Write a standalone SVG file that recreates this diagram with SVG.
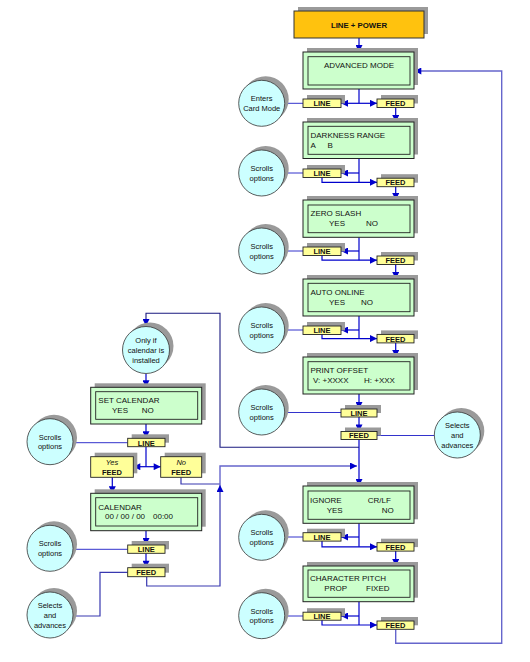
<svg xmlns="http://www.w3.org/2000/svg" width="530" height="662" viewBox="0 0 530 662">
<style>
text{font-family:"Liberation Sans",Arial,sans-serif;fill:#111}
.bt{font-size:8px}
.bc{font-size:8px;text-anchor:middle}
.kb{font-size:7.5px;font-weight:bold;text-anchor:middle}
.ki{font-size:7.5px;font-style:italic;text-anchor:middle}
.ct{font-size:7.5px;text-anchor:middle}
.sh{fill:#9a9a9a}
.box{fill:#CCFFCC;stroke:#222;stroke-width:1}
.inr{fill:#CCFFCC;stroke:#222;stroke-width:0.9}
.key{fill:#FFFF99;stroke:#222;stroke-width:0.9}
.cir{fill:#CCFFFF;stroke:#333;stroke-width:0.8}
.pw{fill:#FFC20E;stroke:#333;stroke-width:1}
.c{fill:none;stroke:#0000CC;stroke-width:1.2}
.t{fill:none;stroke:#3333CC;stroke-width:1}
.lp{fill:none;stroke:#6666CC;stroke-width:1.4}
.nv{fill:none;stroke:#1a1a80;stroke-width:1.1}
.nb{fill:none;stroke:#3838B0;stroke-width:1.2}
</style>
<defs>
<marker id="a" viewBox="0 0 10 10" refX="10" refY="5" markerWidth="9" markerHeight="7" orient="auto" markerUnits="userSpaceOnUse"><path d="M0,0 L10,5 L0,10 z" fill="#0000CC"/></marker>
</defs>

<g id="connectors">
<path class="c" d="M359,38 V52" marker-end="url(#a)"/>
<path class="lp" d="M395.7,629.3 V643.3 H501.7 V71 H414.3" marker-end="url(#a)"/>
<!-- row 1 -->
<path class="c" d="M359,89 V103.3"/>
<path class="c" d="M359,103.3 H341" marker-end="url(#a)"/>
<path class="c" d="M359,103.3 H377" marker-end="url(#a)"/>
<path class="t" d="M284.7,103.3 H303"/>
<path class="c" d="M395.7,107.5 V122" marker-end="url(#a)"/>
<!-- row 2 -->
<path class="c" d="M359,158.5 V182.3"/>
<path class="c" d="M359,173 H341" marker-end="url(#a)"/>
<path class="c" d="M322,177 V182.3 H377" marker-end="url(#a)"/>
<path class="t" d="M284.7,173 H303"/>
<path class="c" d="M395.7,186.5 V200" marker-end="url(#a)"/>
<!-- row 3 -->
<path class="c" d="M359,237.3 V260.2"/>
<path class="c" d="M359,251 H341" marker-end="url(#a)"/>
<path class="c" d="M322,255 V260.2 H377" marker-end="url(#a)"/>
<path class="t" d="M284.7,251 H303"/>
<path class="c" d="M395.7,264.3 V279" marker-end="url(#a)"/>
<!-- row 4 -->
<path class="c" d="M359,316 V338.6"/>
<path class="c" d="M359,330 H341" marker-end="url(#a)"/>
<path class="c" d="M322,334 V338.6 H377" marker-end="url(#a)"/>
<path class="t" d="M284.7,330 H303"/>
<path class="c" d="M395.7,342.7 V357" marker-end="url(#a)"/>
<!-- print offset -->
<path class="c" d="M359,394 V409" marker-end="url(#a)"/>
<path class="c" d="M359,417 V431.5" marker-end="url(#a)"/>
<path class="t" d="M284.7,412.5 H341"/>
<path class="t" d="M377,435.5 H434.3"/>
<path class="c" d="M359,439.5 V486" marker-end="url(#a)"/>
<!-- calendar links -->
<path class="nv" d="M359,447.3 H220 V313.3 H146 V326" marker-end="url(#a)"/>
<path class="nb" d="M146.7,576.7 V586 H220 V485" marker-end="url(#a)"/>
<path class="nb" d="M181,477.3 V484 H220"/>
<path class="lp" d="M220,485 V466 H357" marker-end="url(#a)"/>
<!-- calendar column -->
<path class="c" d="M146,374 V387.3" marker-end="url(#a)"/>
<path class="c" d="M146,424 V438.3" marker-end="url(#a)"/>
<path class="t" d="M73,442.7 H127.7"/>
<path class="c" d="M146,446.7 V466.7"/>
<path class="c" d="M146,466.7 H133.3" marker-end="url(#a)"/>
<path class="c" d="M146,466.7 H160.7" marker-end="url(#a)"/>
<path class="c" d="M112.3,477.3 V493.3" marker-end="url(#a)"/>
<path class="c" d="M146,530.7 V545" marker-end="url(#a)"/>
<path class="t" d="M73,549.3 H127.7"/>
<path class="c" d="M146,553.3 V567.7" marker-end="url(#a)"/>
<path class="nb" d="M127.7,572.3 H100 V616 H73"/>
<!-- row 6 -->
<path class="c" d="M359,523.3 V546.8"/>
<path class="c" d="M359,537 H341" marker-end="url(#a)"/>
<path class="c" d="M322,541 V546.8 H377" marker-end="url(#a)"/>
<path class="t" d="M284.7,537 H303"/>
<path class="c" d="M395.7,551 V566" marker-end="url(#a)"/>
<!-- row 7 -->
<path class="c" d="M359,602 V625"/>
<path class="c" d="M359,616 H341" marker-end="url(#a)"/>
<path class="c" d="M322,620 V625 H377" marker-end="url(#a)"/>
<path class="t" d="M284.7,616 H303"/>
</g>

<g id="line-power">
<rect class="sh" x="298" y="7" width="130" height="27"/>
<rect class="pw" x="294" y="11" width="130" height="27"/>
<text class="kb" x="359" y="27.5" style="font-size:7.8px">LINE + POWER</text>
</g>

<g id="advanced-mode">
<rect class="sh" x="307" y="48" width="111" height="37"/>
<rect class="box" x="303" y="52" width="111" height="37"/>
<rect class="inr" x="308" y="56.7" width="102" height="28.3"/>
<text class="bc" x="359" y="68">ADVANCED MODE</text>
</g>
<g id="enters-card-mode">
<circle class="sh" cx="265.7" cy="99.3" r="23"/>
<circle class="cir" cx="261.7" cy="103.3" r="23"/>
<text class="ct" x="261.7" y="101.3">Enters</text>
<text class="ct" x="261.7" y="110.8">Card Mode</text>
</g>
<g id="line-1"><rect class="sh" x="307" y="95" width="38" height="8.5"/><rect class="key" x="303" y="99" width="38" height="8.5"/><text class="kb" x="322" y="106.2">LINE</text></g>
<g id="feed-1"><rect class="sh" x="381" y="95" width="37" height="8.5"/><rect class="key" x="377" y="99" width="37" height="8.5"/><text class="kb" x="395.5" y="106.2">FEED</text></g>

<g id="darkness-range">
<rect class="sh" x="307" y="118" width="111" height="36.5"/>
<rect class="box" x="303" y="122" width="111" height="36.5"/>
<rect class="inr" x="308" y="126.3" width="102" height="28"/>
<text class="bt" x="310.5" y="138">DARKNESS RANGE</text>
<text class="bt" x="310.5" y="148">A</text>
<text class="bt" x="327.5" y="148">B</text>
</g>
<g id="scrolls-2">
<circle class="sh" cx="265.7" cy="169" r="23"/>
<circle class="cir" cx="261.7" cy="173" r="23"/>
<text class="ct" x="261.7" y="171">Scrolls</text>
<text class="ct" x="261.7" y="180.5">options</text>
</g>
<g id="line-2"><rect class="sh" x="307" y="165" width="38" height="8.5"/><rect class="key" x="303" y="169" width="38" height="8.5"/><text class="kb" x="322" y="176.2">LINE</text></g>
<g id="feed-2"><rect class="sh" x="381" y="174.2" width="37" height="8.5"/><rect class="key" x="377" y="178.2" width="37" height="8.5"/><text class="kb" x="395.5" y="185.4">FEED</text></g>

<g id="zero-slash">
<rect class="sh" x="307" y="196" width="111" height="37.3"/>
<rect class="box" x="303" y="200" width="111" height="37.3"/>
<rect class="inr" x="308" y="205" width="102" height="27.7"/>
<text class="bt" x="310.5" y="215.5">ZERO SLASH</text>
<text class="bt" x="329" y="225.5">YES</text>
<text class="bt" x="366" y="225.5">NO</text>
</g>
<g id="scrolls-3">
<circle class="sh" cx="265.7" cy="247" r="23"/>
<circle class="cir" cx="261.7" cy="251" r="23"/>
<text class="ct" x="261.7" y="249">Scrolls</text>
<text class="ct" x="261.7" y="258.5">options</text>
</g>
<g id="line-3"><rect class="sh" x="307" y="243" width="38" height="8.5"/><rect class="key" x="303" y="247" width="38" height="8.5"/><text class="kb" x="322" y="254.2">LINE</text></g>
<g id="feed-3"><rect class="sh" x="381" y="252" width="37" height="8.5"/><rect class="key" x="377" y="256" width="37" height="8.5"/><text class="kb" x="395.5" y="263.2">FEED</text></g>

<g id="auto-online">
<rect class="sh" x="307" y="275" width="111" height="37"/>
<rect class="box" x="303" y="279" width="111" height="37"/>
<rect class="inr" x="308" y="283.3" width="102" height="28.4"/>
<text class="bt" x="310.5" y="294.5">AUTO ONLINE</text>
<text class="bt" x="329" y="304.5">YES</text>
<text class="bt" x="361" y="304.5">NO</text>
</g>
<g id="scrolls-4">
<circle class="sh" cx="265.7" cy="326" r="23"/>
<circle class="cir" cx="261.7" cy="330" r="23"/>
<text class="ct" x="261.7" y="328">Scrolls</text>
<text class="ct" x="261.7" y="337.5">options</text>
</g>
<g id="line-4"><rect class="sh" x="307" y="322" width="38" height="8.5"/><rect class="key" x="303" y="326" width="38" height="8.5"/><text class="kb" x="322" y="333.2">LINE</text></g>
<g id="feed-4"><rect class="sh" x="381" y="330.4" width="37" height="8.5"/><rect class="key" x="377" y="334.4" width="37" height="8.5"/><text class="kb" x="395.5" y="341.6">FEED</text></g>

<g id="print-offset">
<rect class="sh" x="307" y="353" width="111" height="37"/>
<rect class="box" x="303" y="357" width="111" height="37"/>
<rect class="inr" x="308" y="361.7" width="102" height="28.3"/>
<text class="bt" x="310.5" y="373">PRINT OFFSET</text>
<text class="bt" x="313" y="383">V: +XXXX</text>
<text class="bt" x="364" y="383">H: +XXX</text>
</g>
<g id="scrolls-5">
<circle class="sh" cx="265.7" cy="408" r="23"/>
<circle class="cir" cx="261.7" cy="412" r="23"/>
<text class="ct" x="261.7" y="410">Scrolls</text>
<text class="ct" x="261.7" y="419.5">options</text>
</g>
<g id="line-5"><rect class="sh" x="345" y="405" width="36" height="8"/><rect class="key" x="341" y="409" width="36" height="8"/><text class="kb" x="359" y="415.8">LINE</text></g>
<g id="feed-5"><rect class="sh" x="345" y="427.5" width="36" height="8"/><rect class="key" x="341" y="431.5" width="36" height="8"/><text class="kb" x="359" y="438.3">FEED</text></g>
<g id="selects-right">
<circle class="sh" cx="461.3" cy="431" r="23"/>
<circle class="cir" cx="457.3" cy="435" r="23"/>
<text class="ct" x="457.3" y="427.7">Selects</text>
<text class="ct" x="457.3" y="437.7">and</text>
<text class="ct" x="457.3" y="447.7">advances</text>
</g>

<g id="only-if-calendar">
<circle class="sh" cx="150" cy="346" r="23.5"/>
<circle class="cir" cx="146" cy="350" r="23.5"/>
<text class="ct" x="146" y="342.7">Only if</text>
<text class="ct" x="146" y="352.7">calendar is</text>
<text class="ct" x="146" y="362.7">installed</text>
</g>
<g id="set-calendar">
<rect class="sh" x="94.7" y="383.3" width="111" height="36.7"/>
<rect class="box" x="90.7" y="387.3" width="111" height="36.7"/>
<rect class="inr" x="95.7" y="391.7" width="102" height="27.6"/>
<text class="bt" x="98.3" y="403">SET CALENDAR</text>
<text class="bt" x="112" y="413">YES</text>
<text class="bt" x="141.7" y="413">NO</text>
</g>
<g id="scrolls-cal-1">
<circle class="sh" cx="54" cy="437.7" r="23"/>
<circle class="cir" cx="50" cy="441.7" r="23"/>
<text class="ct" x="50" y="439.7">Scrolls</text>
<text class="ct" x="50" y="449.2">options</text>
</g>
<g id="line-cal-1"><rect class="sh" x="131.7" y="434.3" width="37.3" height="8.4"/><rect class="key" x="127.7" y="438.3" width="37.3" height="8.4"/><text class="kb" x="146.3" y="445.5">LINE</text></g>
<g id="yes-feed"><rect class="sh" x="94.7" y="452.7" width="42.6" height="20.6"/><rect class="key" x="90.7" y="456.7" width="42.6" height="20.6"/><text class="ki" x="112" y="465">Yes</text><text class="kb" x="112" y="475">FEED</text></g>
<g id="no-feed"><rect class="sh" x="164.7" y="452.7" width="41" height="20.6"/><rect class="key" x="160.7" y="456.7" width="41" height="20.6"/><text class="ki" x="181.2" y="465">No</text><text class="kb" x="181.2" y="475">FEED</text></g>

<g id="calendar">
<rect class="sh" x="94.7" y="489.3" width="111" height="37.4"/>
<rect class="box" x="90.7" y="493.3" width="111" height="37.4"/>
<rect class="inr" x="95.7" y="497.7" width="102" height="28.3"/>
<text class="bt" x="98.3" y="509.5">CALENDAR</text>
<text class="bt" x="105" y="518.5">00 / 00 / 00</text>
<text class="bt" x="153" y="518.5">00:00</text>
</g>
<g id="scrolls-cal-2">
<circle class="sh" cx="54" cy="544.3" r="23"/>
<circle class="cir" cx="50" cy="548.3" r="23"/>
<text class="ct" x="50" y="546.3">Scrolls</text>
<text class="ct" x="50" y="555.8">options</text>
</g>
<g id="line-cal-2"><rect class="sh" x="131.7" y="541" width="37.3" height="8.3"/><rect class="key" x="127.7" y="545" width="37.3" height="8.3"/><text class="kb" x="146.3" y="552.1">LINE</text></g>
<g id="feed-cal-2"><rect class="sh" x="131.7" y="563.7" width="37.3" height="9"/><rect class="key" x="127.7" y="567.7" width="37.3" height="9"/><text class="kb" x="146.3" y="575.2">FEED</text></g>
<g id="selects-left">
<circle class="sh" cx="54" cy="611" r="23"/>
<circle class="cir" cx="50" cy="615" r="23"/>
<text class="ct" x="50" y="607.7">Selects</text>
<text class="ct" x="50" y="617.7">and</text>
<text class="ct" x="50" y="627.7">advances</text>
</g>

<g id="ignore-crlf">
<rect class="sh" x="307" y="482" width="111" height="37.3"/>
<rect class="box" x="303" y="486" width="111" height="37.3"/>
<rect class="inr" x="308" y="491" width="102" height="28.3"/>
<text class="bt" x="310" y="503">IGNORE</text>
<text class="bt" x="367.7" y="503">CR/LF</text>
<text class="bt" x="326.7" y="513">YES</text>
<text class="bt" x="381.7" y="513">NO</text>
</g>
<g id="scrolls-6">
<circle class="sh" cx="265.7" cy="533.3" r="23"/>
<circle class="cir" cx="261.7" cy="537.3" r="23"/>
<text class="ct" x="261.7" y="535.3">Scrolls</text>
<text class="ct" x="261.7" y="544.8">options</text>
</g>
<g id="line-6"><rect class="sh" x="307" y="528.7" width="38" height="8.4"/><rect class="key" x="303" y="532.7" width="38" height="8.4"/><text class="kb" x="322" y="539.9">LINE</text></g>
<g id="feed-6"><rect class="sh" x="381" y="538.7" width="37" height="8.4"/><rect class="key" x="377" y="542.7" width="37" height="8.4"/><text class="kb" x="395.5" y="549.9">FEED</text></g>

<g id="character-pitch">
<rect class="sh" x="307" y="562" width="111" height="35.7"/>
<rect class="box" x="303" y="566" width="111" height="35.7"/>
<rect class="inr" x="308" y="570" width="102" height="27.3"/>
<text class="bt" x="310" y="581">CHARACTER PITCH</text>
<text class="bt" x="324.3" y="590.5">PROP</text>
<text class="bt" x="366" y="590.5">FIXED</text>
</g>
<g id="scrolls-7">
<circle class="sh" cx="265.7" cy="611.7" r="23"/>
<circle class="cir" cx="261.7" cy="615.7" r="23"/>
<text class="ct" x="261.7" y="613.7">Scrolls</text>
<text class="ct" x="261.7" y="623.2">options</text>
</g>
<g id="line-7"><rect class="sh" x="307" y="608.2" width="38" height="8"/><rect class="key" x="303" y="612.2" width="38" height="8"/><text class="kb" x="322" y="619.2">LINE</text></g>
<g id="feed-7"><rect class="sh" x="381" y="617" width="37" height="8.3"/><rect class="key" x="377" y="621" width="37" height="8.3"/><text class="kb" x="395.5" y="628.2">FEED</text></g>
</svg>
